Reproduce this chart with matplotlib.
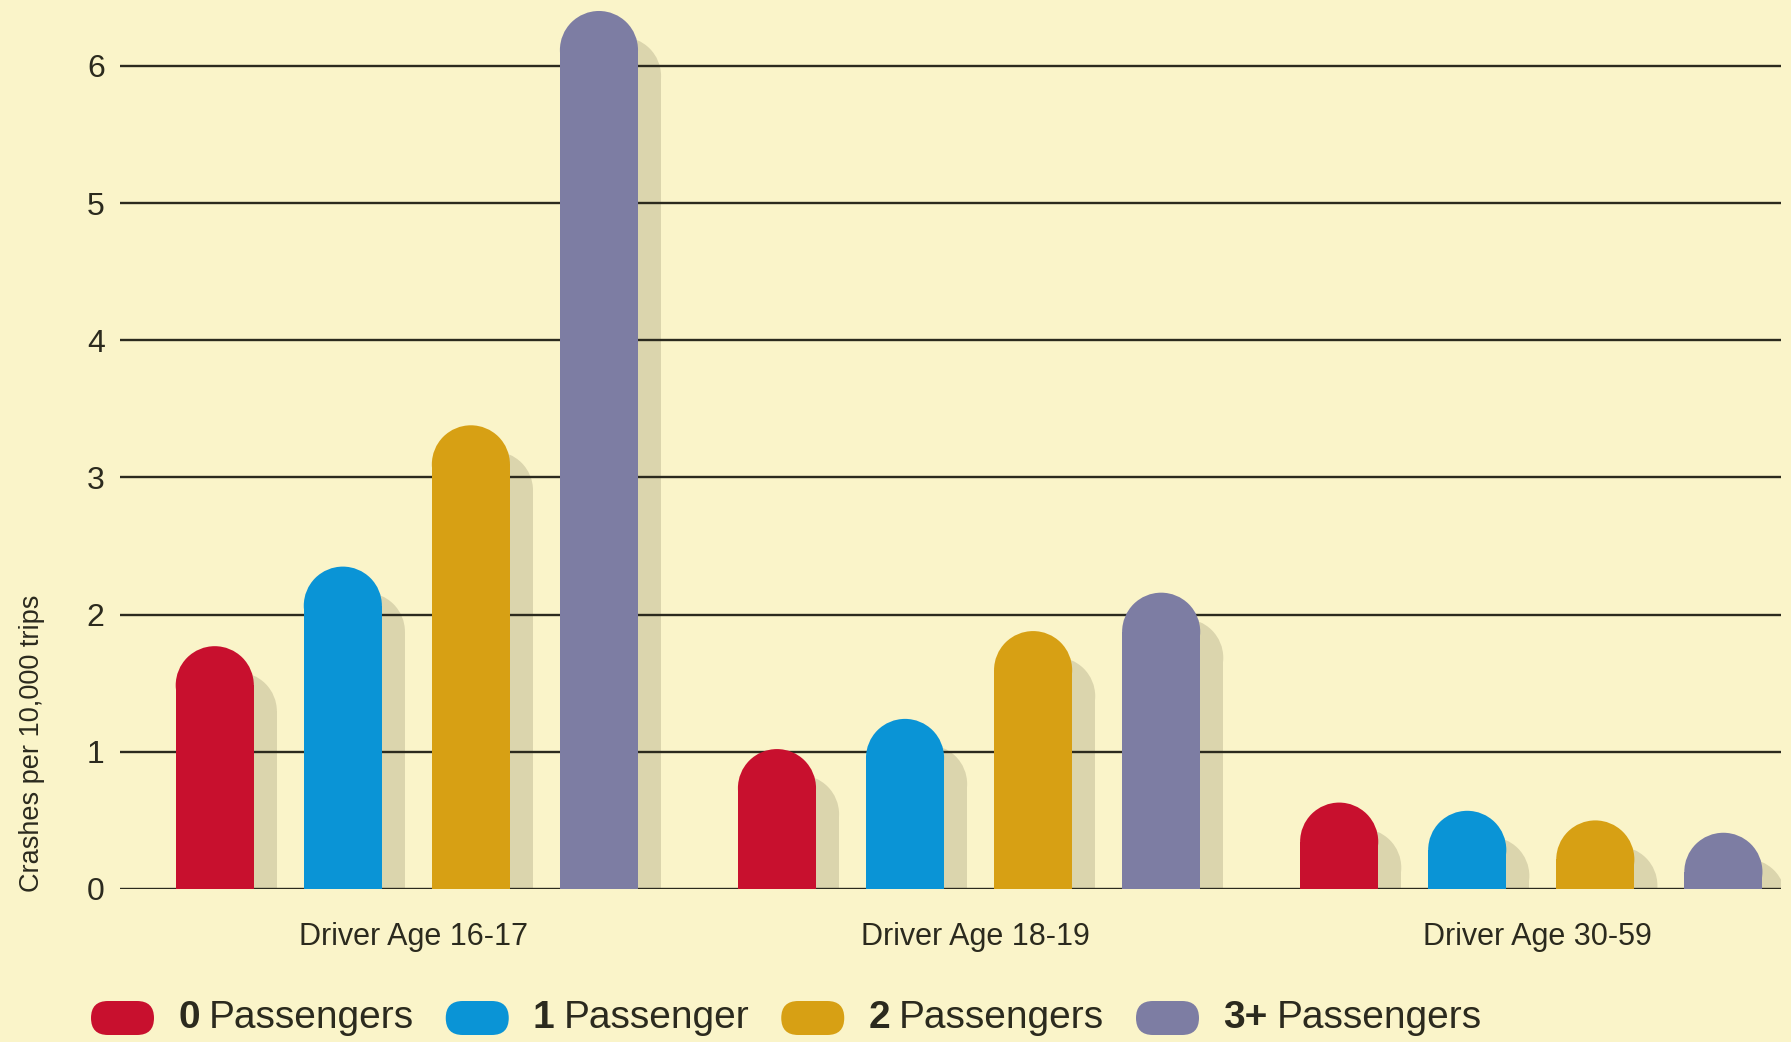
import matplotlib
matplotlib.use('Agg')
from matplotlib import pyplot as plt
from matplotlib.patches import Ellipse, FancyBboxPatch

groups = ['Driver Age 16-17', 'Driver Age 18-19', 'Driver Age 30-59']
series = ['0', '1', '2', '3+']
series_words = ['Passengers', 'Passenger', 'Passengers', 'Passengers']
values = {
    '0': [1.77, 1.02, 0.63],
    '1': [2.35, 1.24, 0.57],
    '2': [3.38, 1.88, 0.50],
    '3+': [6.40, 2.16, 0.41],
}
yticks = [0, 1, 2, 3, 4, 5, 6]

colors = ['#c8102e', '#0a94d6', '#d7a014', '#7d7da3']
bg = '#faf4c9'
shadow = '#dbd5ad'
ink = '#2b2a1e'

plt.rcParams['font.family'] = ['Liberation Sans', 'DejaVu Sans']

W, H = 1791, 1042
fig = plt.figure(figsize=(W / 100, H / 100), dpi=100, facecolor=bg)
ax = fig.add_axes([120 / W, 153 / H, 1661 / W, 889 / H], facecolor=bg)

group_step = 4.39
width = 0.61
xmin, xmax = -0.74, 12.23
ymin, ymax = 0, 6.48
ax.set_xlim(xmin, xmax)
ax.set_ylim(ymin, ymax)

# radius of round caps in data units (circle on screen)
ppx = 1661 / (xmax - xmin)
ppy = 889 / (ymax - ymin)
ry = width / 2 * ppx / ppy
dx, dy = 0.18, 0.19

for i, s in enumerate(series):
    for g, v in enumerate(values[s]):
        x = g * group_step + i
        # shadow
        ax.bar(x + dx, v - dy - ry, width=width, color=shadow, zorder=1, linewidth=0)
        ax.add_patch(Ellipse((x + dx, v - dy - ry), width, 2 * ry, color=shadow, zorder=1, linewidth=0))
        # bar
        ax.bar(x, v - ry, width=width, color=colors[i], zorder=3, linewidth=0)
        ax.add_patch(Ellipse((x, v - ry), width, 2 * ry, color=colors[i], zorder=3, linewidth=0))

for t in yticks:
    ax.axhline(t, color=ink, linewidth=1.7, zorder=2)

ax.set_yticks(yticks)
ax.set_yticklabels([str(t) for t in yticks], fontsize=23, color=ink)
ax.set_xticks([g * group_step + 1.55 for g in range(len(groups))])
ax.set_xticklabels(groups, fontsize=22, color=ink)
ax.tick_params(axis='y', length=0, pad=11)
ax.tick_params(axis='x', length=0, pad=24)
for sp in ax.spines.values():
    sp.set_visible(False)

fig.text(32 / W, 1 - 743 / H, 'Crashes per 10,000 trips', rotation=90,
         ha='center', va='center', fontsize=19.5, color=ink)

# legend row in pixel coordinates
lg = fig.add_axes([0, 0, 1, 1], facecolor='none')
lg.set_xlim(0, W)
lg.set_ylim(H, 0)
lg.axis('off')
renderer = fig.canvas.get_renderer()
x = 91
yc = 1018
for i, s in enumerate(series):
    lg.add_patch(FancyBboxPatch((x, yc - 17), 63, 34, boxstyle='round,pad=0,rounding_size=17',
                                color=colors[i], linewidth=0))
    x += 63 + 24
    t = lg.text(x, yc, s, fontsize=28, fontweight='bold', color=ink, va='center', ha='left')
    x = t.get_window_extent(renderer).x1 + 9
    t = lg.text(x, yc, series_words[i], fontsize=28, color=ink, va='center', ha='left')
    x = t.get_window_extent(renderer).x1 + 32

plt.savefig('out.png', dpi=100, facecolor=bg)
